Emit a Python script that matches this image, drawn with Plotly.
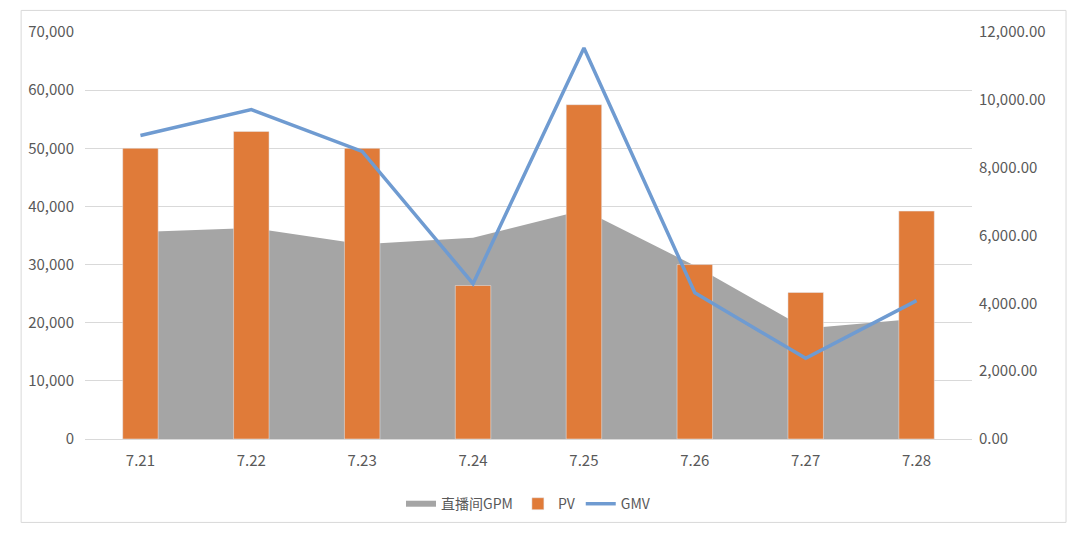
import plotly.graph_objects as go

dates = ["7.21", "7.22", "7.23", "7.24", "7.25", "7.26", "7.27", "7.28"]
gpm = [35600, 36300, 33500, 34600, 39400, 29800, 19000, 20700]
pv = [50000, 52900, 50000, 26400, 57500, 30000, 25200, 39200]
gmv = [8950, 9710, 8480, 4580, 11530, 4310, 2380, 4080]

fig = go.Figure()
fig.add_trace(go.Scatter(x=dates, y=gpm, name="直播间GPM", mode="none", fill="tozeroy",
                         fillcolor="#A5A5A5"))
fig.add_trace(go.Bar(x=dates, y=pv, name="PV", marker_color="#E07B39", width=0.32, yaxis="y2"))
fig.add_trace(go.Scatter(x=dates, y=gmv, name="GMV", mode="lines", yaxis="y3",
                         line=dict(color="#6F9BD1", width=3.5)))

font = dict(family="Noto Sans CJK SC, Noto Sans, sans-serif", size=15, color="#595959")
fig.update_layout(
    width=1080, height=536, paper_bgcolor="white", plot_bgcolor="white",
    margin=dict(l=77, r=116, t=22, b=105), font=font, showlegend=True, barmode="overlay",
    xaxis=dict(type="category", showgrid=False, linecolor="#D9D9D9", ticks="", ticklabelstandoff=8),
    yaxis=dict(range=[0, 70000], dtick=10000, tickformat=",", gridcolor="#D9D9D9",
               zeroline=False, ticklabelstandoff=10),
    yaxis2=dict(range=[0, 70000], overlaying="y", visible=False, showgrid=False),
    yaxis3=dict(range=[0, 12000], dtick=2000, tickformat=",.2f", overlaying="y", side="right",
                showgrid=False, zeroline=False, ticklabelstandoff=6),
    legend=dict(orientation="h", x=0.5, xanchor="center", y=-0.16, yanchor="middle",
                font=dict(size=14, color="#595959")),
    shapes=[dict(type="rect", xref="paper", yref="paper", x0=-0.072, x1=1.106, y0=-0.205, y1=1.053,
                 line=dict(color="#D9D9D9", width=1))],
)
fig.write_html("out.html")
